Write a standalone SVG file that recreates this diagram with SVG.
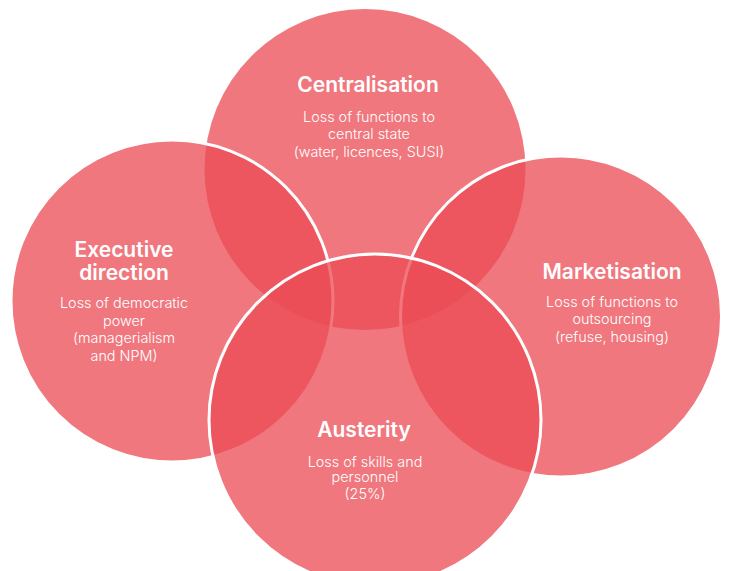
<svg xmlns="http://www.w3.org/2000/svg" width="729" height="571" viewBox="0 0 729 571">
<style>
.c{fill:#EB4C55;fill-opacity:0.76}
.s{stroke:#FFFFFF;stroke-width:3}
.t{font-family:Inter,"Open Sans","Liberation Sans",sans-serif;font-weight:600;font-size:21px;fill:#FFFFFF;text-anchor:middle}
.b{font-family:Inter,"Open Sans","Liberation Sans",sans-serif;font-weight:300;font-size:14.4px;fill:#FFFFFF;text-anchor:middle}
</style>
<rect width="729" height="571" fill="#FFFFFF"/>
<g id="centralisation">
<circle class="c" cx="365" cy="169.5" r="160.5"/>
<text class="t" x="368" y="92">Centralisation</text>
<text class="b" x="369" y="121.5">Loss of functions to</text>
<text class="b" x="369" y="139">central state</text>
<text class="b" x="369" y="156.5">(water, licences, SUSI)</text>
</g>
<g id="executive-direction">
<circle class="c s" cx="172" cy="301" r="161"/>
<text class="t" x="124" y="256.5">Executive</text>
<text class="t" x="124" y="280">direction</text>
<text class="b" x="124" y="308">Loss of democratic</text>
<text class="b" x="124" y="325.5">power</text>
<text class="b" x="124" y="343">(managerialism</text>
<text class="b" x="124" y="360.5">and NPM)</text>
</g>
<g id="marketisation">
<circle class="c s" cx="561" cy="316.5" r="160.5"/>
<text class="t" x="612" y="279">Marketisation</text>
<text class="b" x="612" y="306.5">Loss of functions to</text>
<text class="b" x="612" y="324">outsourcing</text>
<text class="b" x="612" y="341.5">(refuse, housing)</text>
</g>
<g id="austerity">
<circle class="c s" cx="375" cy="420" r="166"/>
<text class="t" x="364" y="437">Austerity</text>
<text class="b" x="365" y="466.5">Loss of skills and</text>
<text class="b" x="365" y="482">personnel</text>
<text class="b" x="365" y="499">(25%)</text>
</g>
<g id="connectors"/>
</svg>
